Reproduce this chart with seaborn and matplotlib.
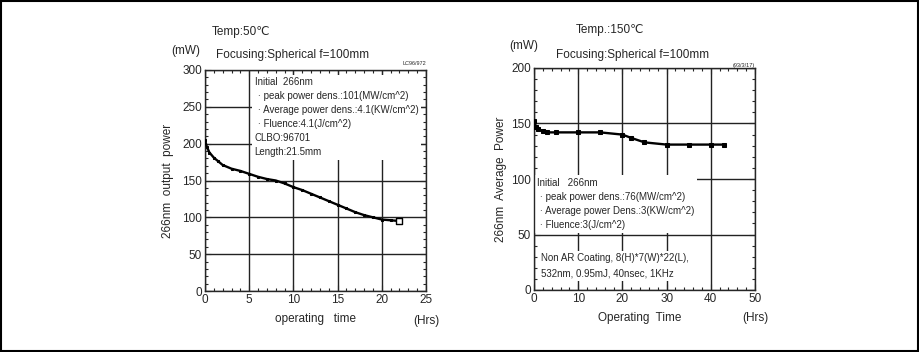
import pandas as pd
import seaborn as sns
import matplotlib.pyplot as plt
from matplotlib.ticker import MultipleLocator

# Temp 50C run (266nm output power, mW vs hours)
t50 = [0, 0.2, 0.5, 1, 1.5, 2, 3, 4, 5, 6, 7, 8, 9, 10, 11, 12, 13, 14, 15, 16, 17, 18, 19, 20, 21, 22]
p50 = [205, 196, 188, 181, 176, 171, 166, 163, 159, 155, 152, 150, 146, 141, 137, 132, 127, 122, 117, 112, 107, 103, 100, 97, 96, 95]

# Temp 150C run (266nm average power, mW vs hours)
t150 = [0, 0.5, 1, 2, 3, 5, 10, 15, 20, 22, 25, 30, 35, 40, 43]
p150 = [152, 147, 145, 143, 142, 142, 142, 142, 140, 137, 133, 131, 131, 131, 131]

note50 = ['Initial  266nm',
          ' · peak power dens.:101(MW/cm^2)',
          ' · Average power dens.:4.1(KW/cm^2)',
          ' · Fluence:4.1(J/cm^2)',
          'CLBO:96701',
          'Length:21.5mm']
note150 = ['Initial   266nm',
           ' · peak power dens.:76(MW/cm^2)',
           ' · Average power Dens.:3(KW/cm^2)',
           ' · Fluence:3(J/cm^2)']
note150b = ['Non AR Coating, 8(H)*7(W)*22(L),',
            '532nm, 0.95mJ, 40nsec, 1KHz']

sns.set_style('ticks')
plt.rcParams['font.family'] = ['Liberation Sans', 'DejaVu Sans']
plt.rcParams['font.size'] = 8

df50 = pd.DataFrame({'t': t50, 'p': p50})
df150 = pd.DataFrame({'t': t150, 'p': p150})

fig = plt.figure(figsize=(9.2, 3.52), dpi=100)
fig.patches.append(plt.Rectangle((0.001, 0.003), 0.997, 0.994, transform=fig.transFigure,
                                 fill=False, edgecolor='black', linewidth=1.5))

ax1 = fig.add_axes([205/920, 61/352, 221/920, 221/352])
ax2 = fig.add_axes([534/920, 62/352, 221/920, 222/352])


def style_axis(ax, xmax, ymax, xmaj, xmin, ymaj, ymin):
    ax.set_xlim(0, xmax)
    ax.set_ylim(0, ymax)
    ax.xaxis.set_major_locator(MultipleLocator(xmaj))
    ax.xaxis.set_minor_locator(MultipleLocator(xmin))
    ax.yaxis.set_major_locator(MultipleLocator(ymaj))
    ax.yaxis.set_minor_locator(MultipleLocator(ymin))
    ax.tick_params(which='both', direction='in', top=True, right=True, width=0.8)
    ax.tick_params(which='major', length=4, pad=2, labelsize=8.5)
    ax.tick_params(which='minor', length=2)
    for s in ax.spines.values():
        s.set_linewidth(1.0)
    ax.grid(True, which='major', color='#222222', linewidth=1.0)
    ax.set_axisbelow(True)


# left chart
style_axis(ax1, 25, 300, 5, 1, 50, 10)
sns.lineplot(data=df50, x='t', y='p', ax=ax1, color='black', linewidth=1.7,
             marker='s', markersize=2, markeredgecolor='black', zorder=3)
sns.scatterplot(data=df50.tail(1), x='t', y='p', ax=ax1, marker='s', s=18,
                facecolor='white', edgecolor='black', linewidth=1, zorder=4)
ax1.set_xlabel('')
ax1.set_ylabel('266nm  output  power', fontsize=8.5, labelpad=6)
ax1.text(5.6, 290, '\n'.join(note50), fontsize=7, va='top', ha='left', linespacing=1.5,
         bbox=dict(facecolor='white', edgecolor='none', pad=2), zorder=2.5)
ax1.text(0.5, -0.1, 'operating   time', transform=ax1.transAxes, ha='center', va='top', fontsize=8.5)
ax1.text(1.0, -0.11, '(Hrs)', transform=ax1.transAxes, ha='center', va='top', fontsize=8.5)
ax1.text(-0.02, 1.085, '(mW)', transform=ax1.transAxes, ha='right', va='center', fontsize=8.5)
ax1.text(0.05, 1.07, 'Focusing:Spherical f=100mm', transform=ax1.transAxes, ha='left', va='center', fontsize=8.5)
ax1.text(0.03, 1.17, 'Temp:50℃', transform=ax1.transAxes, ha='left', va='center', fontsize=8.5)
ax1.text(1.0, 1.02, 'LC96/972', transform=ax1.transAxes, ha='right', va='bottom', fontsize=4)

# right chart
style_axis(ax2, 50, 200, 10, 2, 50, 10)
sns.lineplot(data=df150, x='t', y='p', ax=ax2, color='black', linewidth=1.7,
             marker='s', markersize=2.5, markeredgecolor='black', zorder=3)
ax2.set_xlabel('')
ax2.set_ylabel('266nm  Average  Power', fontsize=8.5, labelpad=3)
ax2.text(0.6, 101, '\n'.join(note150), fontsize=7, va='top', ha='left', linespacing=1.5,
         bbox=dict(facecolor='white', edgecolor='none', pad=2), zorder=2.5)
ax2.text(1.5, 33, '\n'.join(note150b), fontsize=7, va='top', ha='left', linespacing=1.6,
         bbox=dict(facecolor='white', edgecolor='none', pad=2), zorder=2.5)
ax2.text(0.48, -0.1, 'Operating  Time', transform=ax2.transAxes, ha='center', va='top', fontsize=8.5)
ax2.text(1.0, -0.1, '(Hrs)', transform=ax2.transAxes, ha='center', va='top', fontsize=8.5)
ax2.text(-0.11, 1.1, '(mW)', transform=ax2.transAxes, ha='left', va='center', fontsize=8.5)
ax2.text(0.1, 1.06, 'Focusing:Spherical f=100mm', transform=ax2.transAxes, ha='left', va='center', fontsize=8.5)
ax2.text(0.19, 1.17, 'Temp.:150℃', transform=ax2.transAxes, ha='left', va='center', fontsize=8.5)
ax2.text(1.0, 1.0, '(93/3/17)', transform=ax2.transAxes, ha='right', va='bottom', fontsize=4)

fig.savefig('out.png', dpi=100, facecolor='white')
